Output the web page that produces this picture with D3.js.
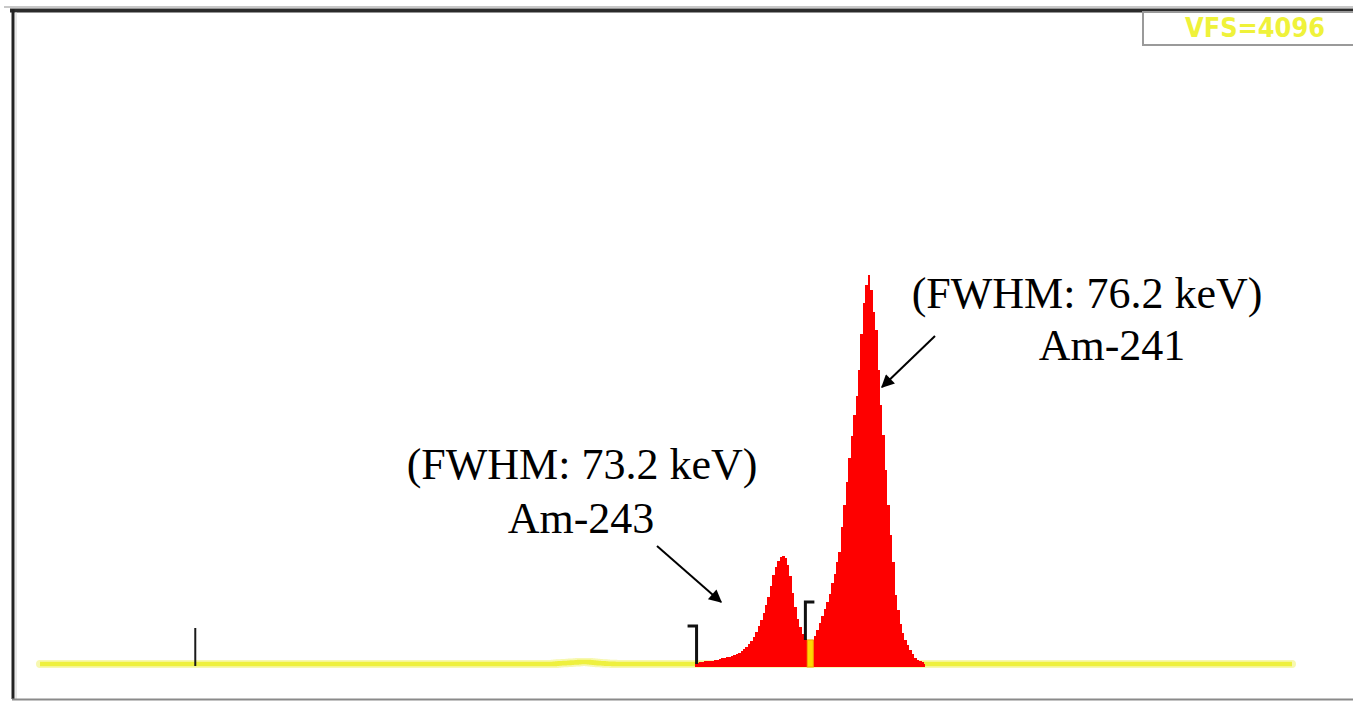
<!DOCTYPE html>
<html>
<head>
<meta charset="utf-8">
<script src="https://cdn.jsdelivr.net/npm/d3@7"></script>
<style>
  html, body { margin: 0; padding: 0; background: #fff; }
  svg { display: block; }
</style>
</head>
<body>
<svg id="chart" width="1353" height="701"></svg>
<script>
// Alpha spectrum (MCA display), 512 channels, vertical full scale 4096 counts.
const channelCount = 512;
const fullScale = 4096;

// Counts of the weak hump on the baseline, channels 210..236
const humpStart = 210;
const humpCounts = [0, 2, 3, 4, 5, 6, 7, 8, 9, 10, 11, 12, 13, 13, 12, 11, 10, 8, 7, 5, 4, 3, 2, 1, 1, 0, 0];

// Counts inside the region of interest, channels 268..362 (Am-243 and Am-241 peaks)
const roiStart = 268;
const roiCounts = [
  0, 6, 13, 13, 16, 19, 19, 22, 25, 25,
  32, 35, 38, 44, 47, 50, 57, 63, 72, 82,
  95, 107, 126, 145, 170, 202, 239, 277, 321, 372,
  422, 491, 561, 611, 649, 674, 680, 668, 624, 554,
  447, 359, 284, 233, 189, 158, 145, 139, 151, 176,
  214, 258, 302, 347, 391, 441, 510, 567, 643, 706,
  863, 1002, 1147, 1298, 1436, 1569, 1688, 1852, 2079, 2274,
  2388, 2451, 2356, 2218, 2104, 1852, 1632, 1443, 1222, 1002,
  813, 643, 435, 340, 252, 195, 151, 120, 88, 63,
  38, 25, 19, 13, 0
];
const roiEnd = roiStart + roiCounts.length - 1;

// Markers: plain tick, ROI brackets, and the cursor channel
const tickChannels = [63.5];
const bracketMarks = [
  { channel: 268.5, side: "left" },   // "]" opening of the region
  { channel: 313, side: "right" }     // "[" between the two peaks
];
const cursorChannel = 315;

// Labels
const vfsLabel = "VFS=4096";
const peakLabels = [
  { lines: ["(FWHM: 76.2 keV)", "Am-241"] },
  { lines: ["(FWHM: 73.2 keV)", "Am-243"] }
];

// Full spectrum: zeros except the hump and the ROI
const spectrum = d3.range(channelCount + 1).map(ch => {
  let v = 0;
  if (ch >= humpStart && ch < humpStart + humpCounts.length) v = humpCounts[ch - humpStart];
  if (ch >= roiStart && ch <= roiEnd) v = roiCounts[ch - roiStart];
  return { ch, v };
});
const countAt = ch => {
  const i = Math.round(ch);
  return spectrum[Math.max(0, Math.min(channelCount, i))].v;
};

const svg = d3.select("#chart");
const W = 1353, H = 701;

const x = d3.scaleLinear().domain([0, channelCount]).range([40, 1292]);
const y = d3.scaleLinear().domain([0, fullScale]).range([664, 14]);

// Window frame
svg.append("rect").attr("width", W).attr("height", H).attr("fill", "#ffffff");
svg.append("line").attr("x1", 4).attr("x2", W).attr("y1", 7).attr("y2", 7)
  .attr("stroke", "#c8c8c8").attr("stroke-width", 2);
svg.append("line").attr("x1", 10).attr("x2", W).attr("y1", 10.5).attr("y2", 10.5)
  .attr("stroke", "#2b2b2b").attr("stroke-width", 4);
svg.append("line").attr("x1", 13).attr("x2", 13).attr("y1", 9).attr("y2", 699)
  .attr("stroke", "#222").attr("stroke-width", 3);
svg.append("line").attr("x1", 16).attr("x2", 16).attr("y1", 12).attr("y2", 699)
  .attr("stroke", "#d0d0d0").attr("stroke-width", 1);
svg.append("line").attr("x1", 12).attr("x2", W).attr("y1", 699.5).attr("y2", 699.5)
  .attr("stroke", "#8a8a8a").attr("stroke-width", 2);

// Vertical full-scale box
svg.append("rect").attr("x", 1143).attr("y", 12).attr("width", 220).attr("height", 33)
  .attr("fill", "#fff").attr("stroke", "#9a9a9a").attr("stroke-width", 2);
svg.append("text").attr("x", 1185).attr("y", 37)
  .attr("font-family", "'DejaVu Sans', sans-serif").attr("font-weight", "bold")
  .attr("font-size", 26).attr("fill", "#eff23a")
  .attr("textLength", 140).attr("lengthAdjust", "spacingAndGlyphs")
  .text(vfsLabel);

// Baseline trace (yellow); inside the ROI it stays on the baseline under the fill
const traceData = spectrum.map(d => ({ ch: d.ch, v: (d.ch >= roiStart && d.ch <= roiEnd) ? 0 : d.v }));
const traceLine = d3.line().x(d => x(d.ch)).y(d => y(d.v)).curve(d3.curveStep);
svg.append("path").datum(traceData).attr("d", traceLine)
  .attr("fill", "none").attr("stroke", "#f7f8b0").attr("stroke-width", 8)
  .attr("stroke-linecap", "round");
svg.append("path").datum(traceData).attr("d", traceLine)
  .attr("fill", "none").attr("stroke", "#eef03e").attr("stroke-width", 4.5);

// ROI fill (red)
const roiData = spectrum.filter(d => d.ch >= roiStart && d.ch <= roiEnd);
const roiArea = d3.area().x(d => x(d.ch)).y0(y(0) + 2.5).y1(d => y(d.v)).curve(d3.curveStep);
svg.append("path").datum(roiData).attr("d", roiArea)
  .attr("fill", "#fe0000").attr("shape-rendering", "crispEdges");

// Cursor
svg.append("rect")
  .attr("x", x(cursorChannel) - 3).attr("y", y(countAt(cursorChannel)) - 2)
  .attr("width", 6).attr("height", y(0) + 3 - (y(countAt(cursorChannel)) - 2))
  .attr("fill", "#ffd800").attr("stroke", "#f2a400").attr("stroke-width", 1);

// Markers
const markLen = 38;
tickChannels.forEach(ch => {
  svg.append("line").attr("x1", x(ch)).attr("x2", x(ch))
    .attr("y1", y(countAt(ch)) + 2).attr("y2", y(countAt(ch)) + 2 - markLen)
    .attr("stroke", "#1a1a1a").attr("stroke-width", 2);
});
bracketMarks.forEach(b => {
  const bx = x(b.channel);
  const base = y(countAt(b.channel)) + 1;
  const top = base - markLen;
  const dx = b.side === "left" ? -9 : 9;
  svg.append("path")
    .attr("d", `M${bx + dx},${top} L${bx},${top} L${bx},${base}`)
    .attr("fill", "none").attr("stroke", "#111").attr("stroke-width", 3);
});

// Arrow heads
const defs = svg.append("defs");
defs.append("marker").attr("id", "arrowHead")
  .attr("viewBox", "0 0 10 10").attr("refX", 9).attr("refY", 5)
  .attr("markerUnits", "userSpaceOnUse")
  .attr("markerWidth", 16).attr("markerHeight", 13)
  .attr("orient", "auto")
  .append("path").attr("d", "M0,0 L10,5 L0,10 Z").attr("fill", "#000");

// Peak annotations
const serif = "'Liberation Serif', 'Times New Roman', serif";
const fs = 44;
function label(text, px, py, anchor) {
  svg.append("text").attr("x", px).attr("y", py)
    .attr("text-anchor", anchor)
    .attr("font-family", serif).attr("font-size", fs).attr("fill", "#000")
    .text(text);
}
// Am-241
label(peakLabels[0].lines[0], 1087, 308, "middle");
label(peakLabels[0].lines[1], 1112, 360, "middle");
svg.append("line").attr("x1", 935).attr("y1", 336).attr("x2", 882).attr("y2", 387)
  .attr("stroke", "#000").attr("stroke-width", 2).attr("marker-end", "url(#arrowHead)");
// Am-243
label(peakLabels[1].lines[0], 582, 479, "middle");
label(peakLabels[1].lines[1], 581, 533, "middle");
svg.append("line").attr("x1", 657).attr("y1", 546).attr("x2", 721).attr("y2", 602)
  .attr("stroke", "#000").attr("stroke-width", 2).attr("marker-end", "url(#arrowHead)");
</script>
</body>
</html>
